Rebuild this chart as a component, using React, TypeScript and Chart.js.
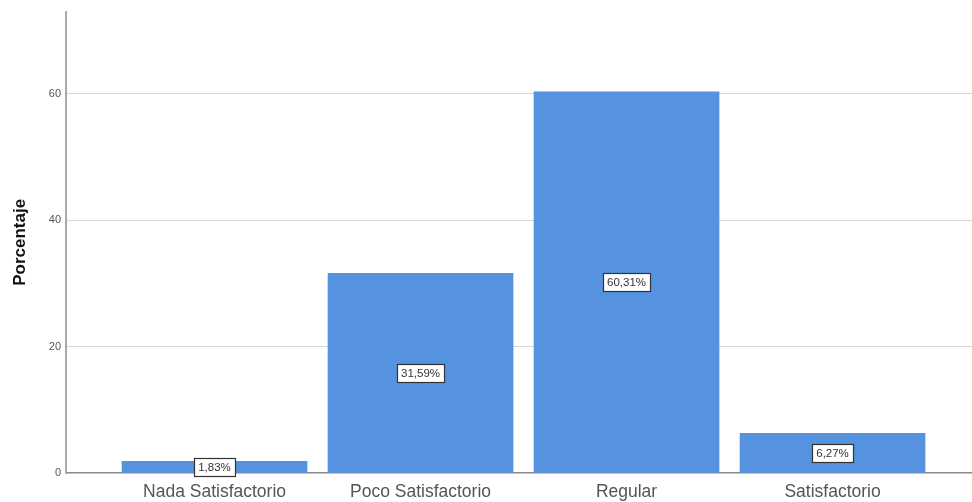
import React, { useEffect, useRef } from "react";
import { Chart, registerables } from "chart.js";

Chart.register(...registerables);

const categories = ["Nada Satisfactorio", "Poco Satisfactorio", "Regular", "Satisfactorio"];
const percentages = [1.83, 31.59, 60.31, 6.27];
const yTicks = [0, 20, 40, 60];

const barColor = "#5592e0";

const labelPlugin = {
  id: "boxLabels",
  afterDatasetsDraw(chart: any) {
    const ctx = chart.ctx;
    const meta = chart.getDatasetMeta(0);
    ctx.save();
    ctx.font = "11.5px 'Liberation Sans', Arial, sans-serif";
    ctx.textAlign = "center";
    ctx.textBaseline = "middle";
    meta.data.forEach((el: any, i: number) => {
      const v = percentages[i];
      const text = v.toFixed(2).replace(".", ",") + "%";
      const cx = el.x;
      const cy = (el.y + el.base) / 2;
      const w = ctx.measureText(text).width + 8;
      const h = 18;
      const bx = Math.round(cx - w / 2) + 0.5;
      const by = Math.round(cy - h / 2) + 0.5;
      ctx.fillStyle = "#ffffff";
      ctx.fillRect(bx, by, Math.round(w), h);
      ctx.strokeStyle = "#333333";
      ctx.lineWidth = 1.2;
      ctx.strokeRect(bx, by, Math.round(w), h);
      ctx.fillStyle = "#333333";
      ctx.fillText(text, cx, cy + 1);
    });
    ctx.restore();
  },
};

export default function App() {
  const ref = useRef<HTMLCanvasElement | null>(null);
  useEffect(() => {
    if (!ref.current) return;
    const chart = new Chart(ref.current, {
      type: "bar",
      data: {
        datasets: [
          {
            data: percentages.map((v, i) => ({ x: i, y: v })),
            backgroundColor: barColor,
            barThickness: 185,
            borderWidth: 0,
          },
        ],
      },
      options: {
        animation: false,
        responsive: false,
        maintainAspectRatio: false,
        layout: { padding: { top: 10, right: 0, left: 0, bottom: 0 } },
        plugins: {
          legend: { display: false },
          tooltip: { enabled: false },
        },
        scales: {
          x: {
            type: "linear",
            offset: false,
            min: -0.721,
            max: 3.677,
            grid: { display: false, drawTicks: false, offset: false },
            border: { display: true, color: "#8a8a8a", width: 1.5 },
            ticks: {
              stepSize: 1,
              includeBounds: false,
              autoSkip: false,
              maxRotation: 0,
              padding: 9,
              color: "#555555",
              font: { size: 17.5, family: "'Liberation Sans', Arial, sans-serif" },
              callback: (v: any) => (Number.isInteger(v) && categories[v] ? categories[v] : ""),
            },
            afterFit: (s: any) => {
              s.height = 29;
            },
          },
          y: {
            min: 0,
            max: 73,
            afterBuildTicks: (s: any) => {
              s.ticks = yTicks.map((v) => ({ value: v }));
            },
            grid: {
              drawTicks: false,
              color: (c: any) => (c.tick && c.tick.value === 0 ? "rgba(0,0,0,0)" : "#d6d6d6"),
              lineWidth: 1,
            },
            border: { display: true, color: "#aaaaaa", width: 2 },
            ticks: {
              padding: 5,
              color: "#555555",
              font: { size: 11, family: "'Liberation Sans', Arial, sans-serif" },
            },
            title: {
              display: true,
              text: "Porcentaje",
              color: "#111111",
              padding: { top: 10, bottom: 0 },
              font: { size: 17, weight: "bold", family: "'Liberation Sans', Arial, sans-serif" },
            },
            afterFit: (s: any) => {
              s.width = 66;
            },
          },
        },
      },
      plugins: [labelPlugin],
    } as any);
    return () => chart.destroy();
  }, []);
  return (
    <div style={{ position: "fixed", left: 0, top: 0, width: 972, height: 502, background: "#fff" }}>
      <canvas ref={ref} width={972} height={502} style={{ width: 972, height: 502 }} />
    </div>
  );
}
